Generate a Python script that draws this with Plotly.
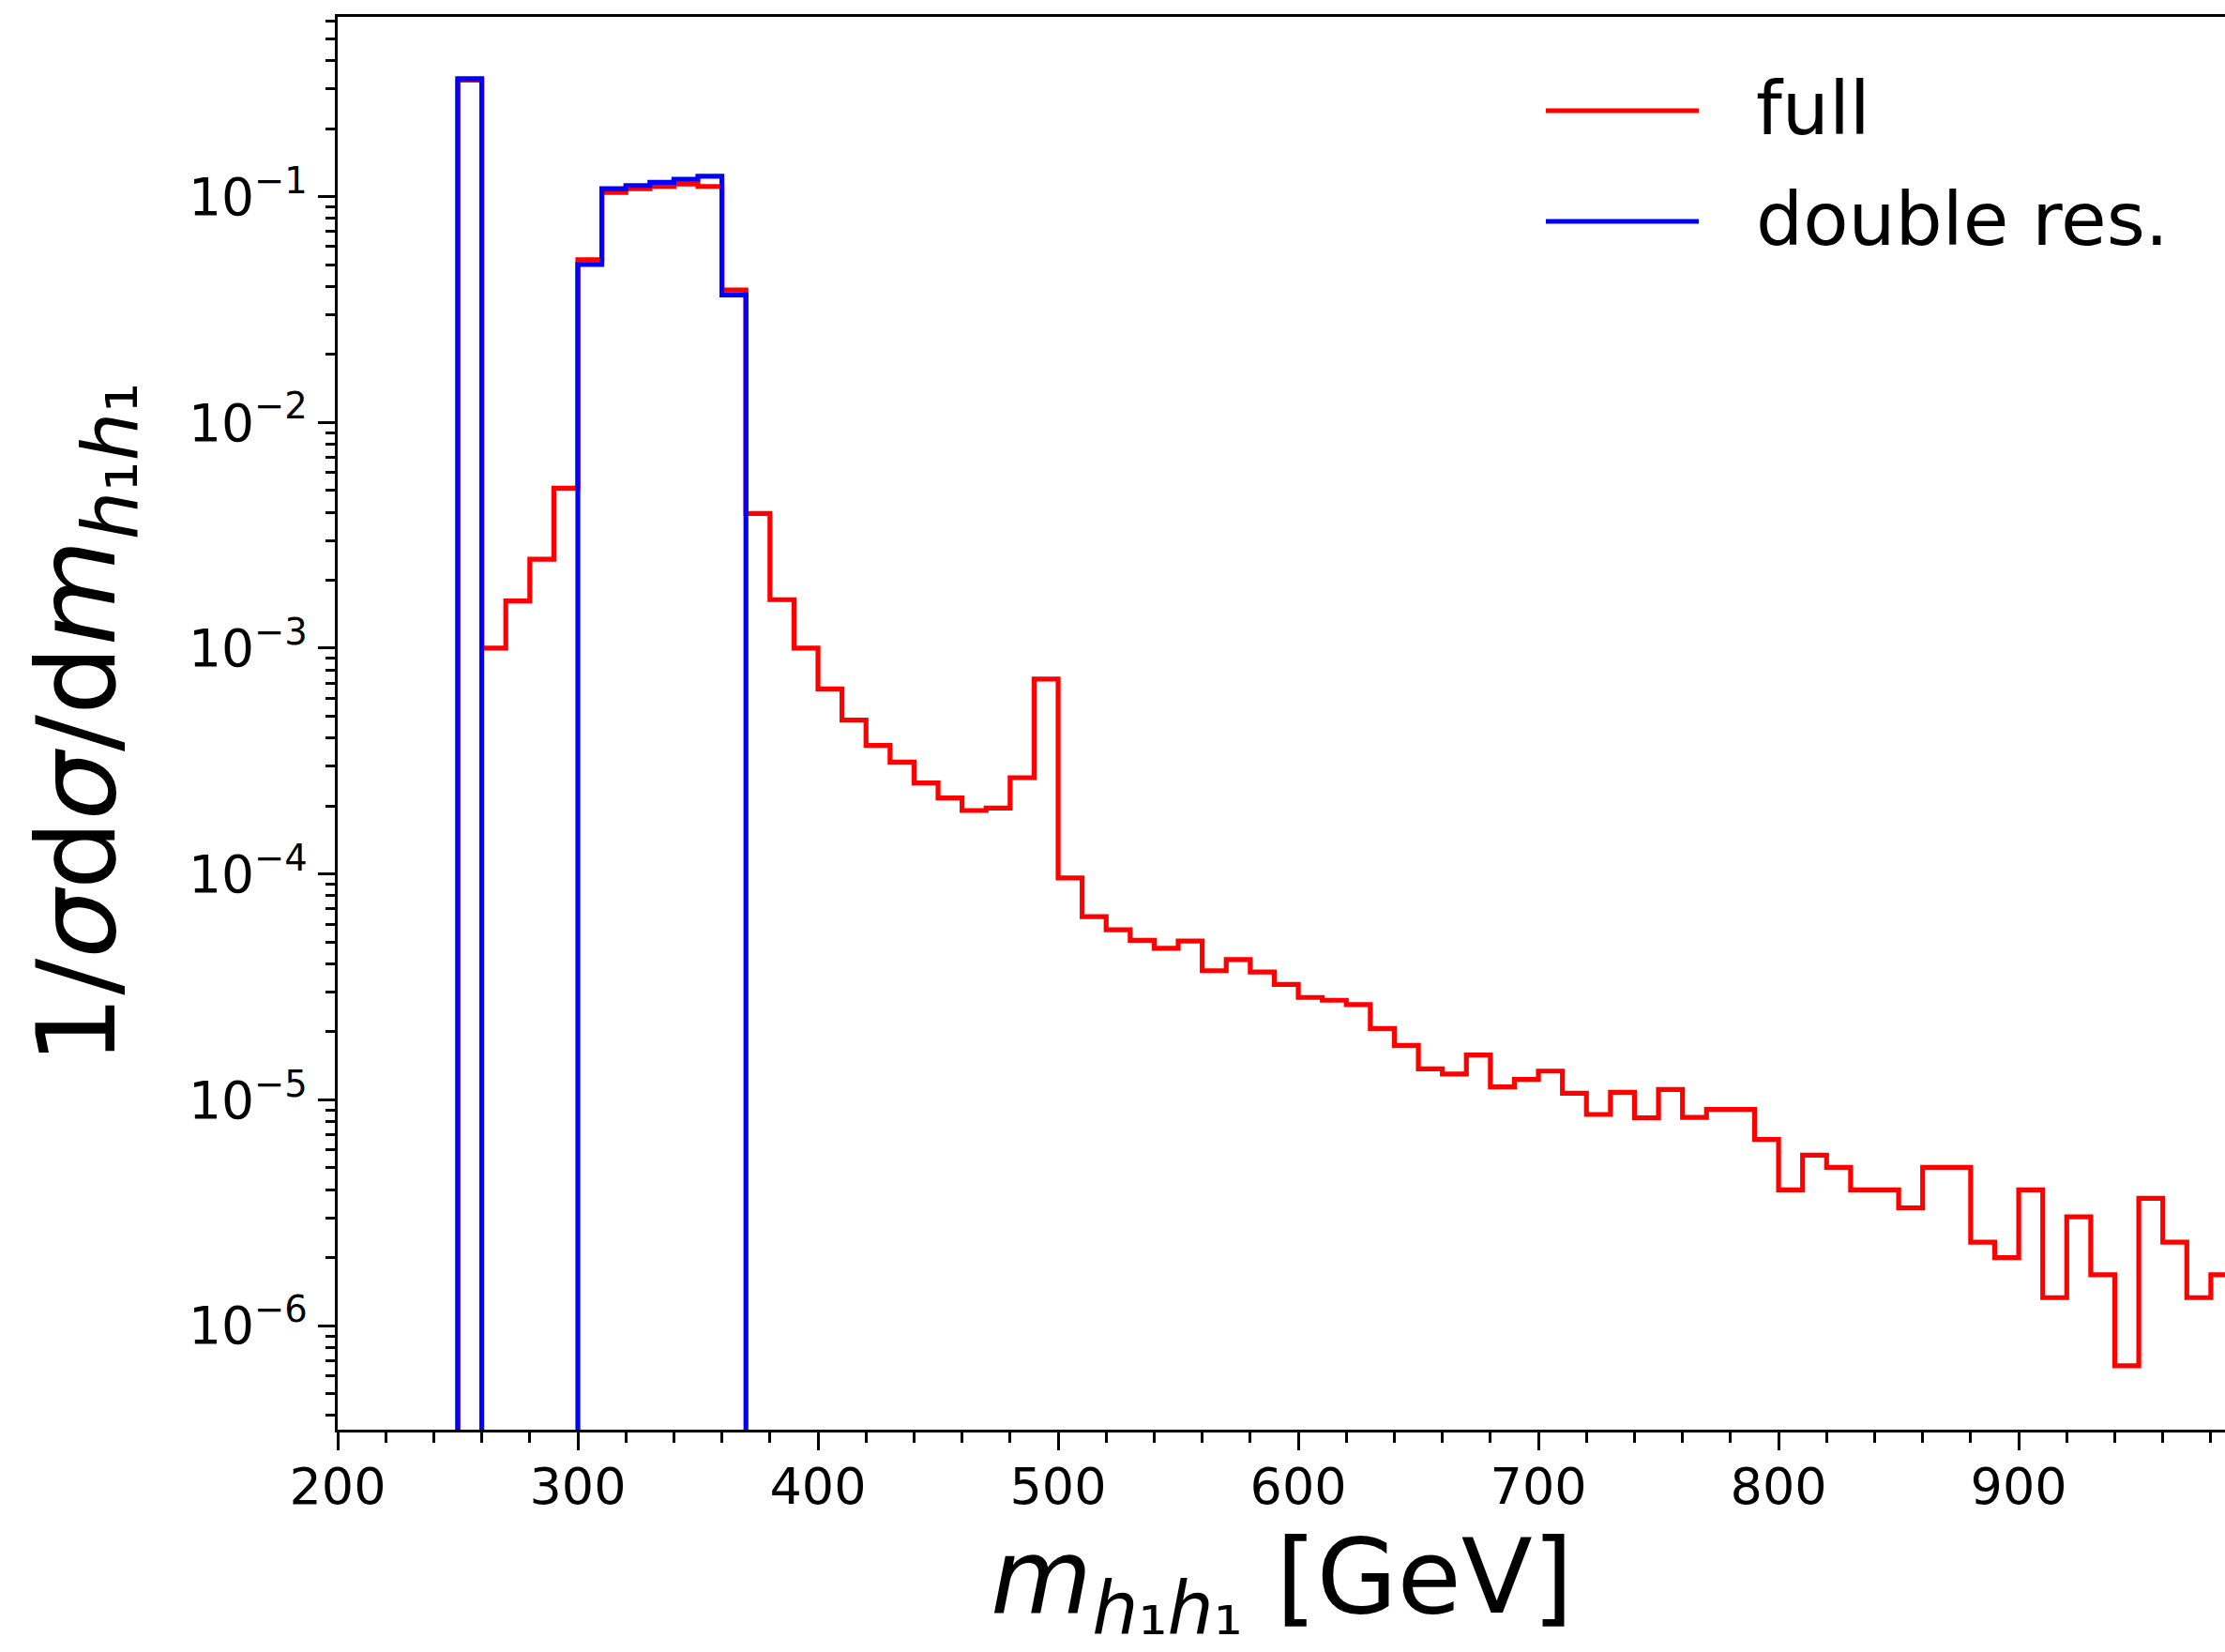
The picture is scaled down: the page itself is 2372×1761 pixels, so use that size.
import plotly.graph_objects as go

# ---------------- data ----------------
bin_width = 10.0
full_lo_edges = list(range(250, 990, 10))          # lower bin edges, GeV
full_values = [
    0.328, 1.0e-3, 1.62e-3, 2.48e-3, 5.11e-3,              # 250-300
    0.0526, 0.1044, 0.1085, 0.111, 0.1137, 0.1109, 0.0386,  # 300-370
    3.95e-3, 1.64e-3, 1.0e-3,                               # 370-400
    6.6e-4, 4.8e-4, 3.71e-4, 3.13e-4, 2.53e-4,              # 400-450
    2.17e-4, 1.91e-4, 1.96e-4, 2.67e-4, 7.3e-4,             # 450-500
    9.6e-5, 6.47e-5, 5.66e-5, 5.08e-5, 4.69e-5,             # 500-550
    5.05e-5, 3.73e-5, 4.18e-5, 3.68e-5, 3.24e-5,            # 550-600
    2.84e-5, 2.76e-5, 2.64e-5, 2.07e-5, 1.74e-5,            # 600-650
    1.37e-5, 1.30e-5, 1.58e-5, 1.14e-5, 1.23e-5,            # 650-700
    1.34e-5, 1.07e-5, 8.61e-6, 1.08e-5, 8.32e-6,            # 700-750
    1.11e-5, 8.36e-6, 9.06e-6, 9.06e-6, 6.67e-6,            # 750-800
    3.99e-6, 5.69e-6, 5.02e-6, 3.99e-6, 3.99e-6,            # 800-850
    3.32e-6, 5.02e-6, 5.02e-6, 2.34e-6, 2.00e-6,            # 850-900
    3.99e-6, 1.33e-6, 3.03e-6, 1.68e-6, 6.64e-7,            # 900-950
    3.66e-6, 2.34e-6, 1.33e-6, 1.68e-6,                     # 950-990
]
dres_lo_edges = list(range(250, 370, 10))
dres_values = [
    0.333, 0.0, 0.0, 0.0, 0.0,
    0.0501, 0.1085, 0.112, 0.1157, 0.1193, 0.123, 0.0367,
]

series_names = ["full", "double res."]
series_colors = ["#ff0000", "#0000ff"]

x_title = "<i>m</i><sub><i>h</i>\u2081<i>h</i>\u2081</sub> [GeV]"
y_title = "1/<i>\u03c3</i>d<i>\u03c3</i>/d<i>m</i><sub><i>h</i>\u2081<i>h</i>\u2081</sub>"

x_tick_vals = [200, 300, 400, 500, 600, 700, 800, 900]
y_tick_vals = [1e-6, 1e-5, 1e-4, 1e-3, 1e-2, 1e-1]
y_tick_text = ["10<sup>\u22126</sup>", "10<sup>\u22125</sup>", "10<sup>\u22124</sup>",
               "10<sup>\u22123</sup>", "10<sup>\u22122</sup>", "10<sup>\u22121</sup>"]

x_range = [200, 985.9]
y_range_log = [-6.461, -0.204]

FONT = "DejaVu Sans"
FLOOR = 1e-12   # stand-in for empty bins on the log axis (falls below the axis)


def step_path(lo_edges, values, width):
    xs = [lo_edges[0]]
    ys = [FLOOR]
    for e, v in zip(lo_edges, values):
        xs.append(e)
        ys.append(v if v > 0 else FLOOR)
    last = lo_edges[-1] + width
    xs += [last, last]
    ys += [ys[-1], FLOOR]
    return xs, ys


fig = go.Figure()
for (edges, vals), name, col in zip(
        [(full_lo_edges, full_values), (dres_lo_edges, dres_values)],
        series_names, series_colors):
    xs, ys = step_path(edges, vals, bin_width)
    fig.add_trace(go.Scatter(x=xs, y=ys, mode="lines", name=name,
                             line=dict(color=col, width=5.2, shape="hv"),
                             showlegend=False))

# minor ticks for log axis
minor_y = []
for d in range(-7, 0):
    for m in range(2, 10):
        v = m * 10 ** d
        if 10 ** y_range_log[0] <= v <= 10 ** y_range_log[1]:
            minor_y.append(v)

W, H = 2372, 1761
ML, MR, MT, MB = 360, 0, 18, 237

fig.update_layout(
    width=W, height=H,
    margin=dict(l=ML, r=MR, t=MT, b=MB, pad=0),
    paper_bgcolor="white", plot_bgcolor="white",
    font=dict(family=FONT, color="black", size=54),
    xaxis=dict(
        range=x_range, tickvals=x_tick_vals, ticks="outside", ticklen=19,
        tickwidth=3.3, tickcolor="black", showline=True, linecolor="black",
        linewidth=3.3, mirror=True, showgrid=False, zeroline=False,
        tickfont=dict(size=54, family=FONT), ticklabelstandoff=-8,
        minor=dict(tickvals=list(range(220, 1000, 20)), ticks="outside",
                   ticklen=11, tickwidth=2.7, tickcolor="black", showgrid=False),
    ),
    yaxis=dict(
        type="log", range=y_range_log, tickvals=y_tick_vals, ticktext=y_tick_text,
        ticks="outside", ticklen=18, tickwidth=3.3, tickcolor="black",
        showline=True, linecolor="black", linewidth=3.3, mirror=False,
        showgrid=False, zeroline=False, tickfont=dict(size=55, family=FONT),
        minor=dict(tickvals=minor_y, ticks="outside", ticklen=10, tickwidth=2.7,
                   tickcolor="black", showgrid=False),
        title=dict(text=y_title, font=dict(size=116, family=FONT), standoff=40),
    ),
)

pw, ph = W - ML - MR, H - MT - MB
def px2paper(x, y):
    return (x - ML) / pw, (H - MB - y) / ph

# x-axis title placed just below the tick labels
_, ty_title = px2paper(0, 1615)
fig.add_annotation(xref="paper", yref="paper", x=0.5, y=ty_title, text=x_title,
                   showarrow=False, xanchor="center", yanchor="top", borderpad=0,
                   font=dict(size=111, family=FONT, color="black"))

# legend drawn in paper coordinates
for i, (name, col) in enumerate(zip(series_names, series_colors)):
    ly = 118 + i * 118
    x0, yp = px2paper(1648, ly)
    x1, _ = px2paper(1811, ly)
    fig.add_shape(type="line", xref="paper", yref="paper", x0=x0, x1=x1, y0=yp, y1=yp,
                  line=dict(color=col, width=5.2))
    tx, ty = px2paper(1870, ly - 2)
    fig.add_annotation(xref="paper", yref="paper", x=tx, y=ty, text=name,
                       showarrow=False, xanchor="left", yanchor="middle",
                       font=dict(size=79, family=FONT, color="black"))

fig.write_html("out.html")
